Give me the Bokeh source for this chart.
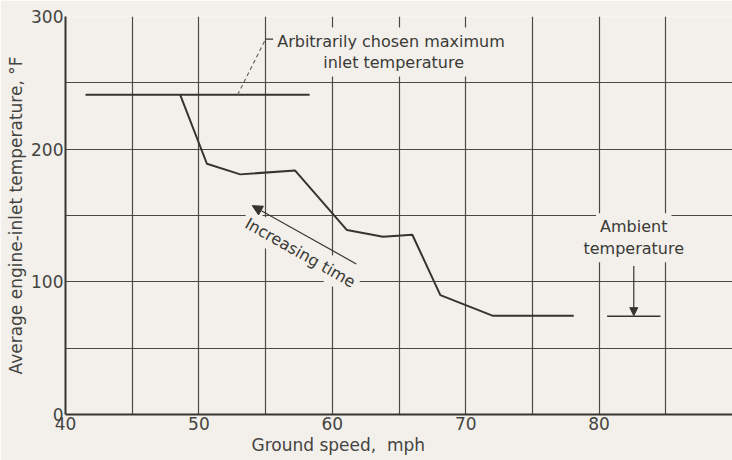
from bokeh.plotting import figure
from bokeh.models import Range1d, FixedTicker, Label, Arrow, NormalHead, Title
from bokeh.embed import file_html
from bokeh.resources import INLINE

# ---- data ----
speed = [48.6, 50.6, 53.1, 57.2, 61.1, 63.8, 66.0, 68.1, 72.0, 78.1]
temp = [241, 189, 181, 184, 139, 134, 135.5, 90, 74.5, 74.5]

max_x = [41.5, 58.3]
max_y = [241, 241]

amb_x = [80.6, 84.6]
amb_y = [74, 74]

x_ticks = [40, 50, 60, 70, 80]
y_ticks = [0, 100, 200, 300]
x_grid = [40, 45, 50, 55, 60, 65, 70, 75, 80, 85]
y_grid = [0, 50, 100, 150, 200, 250, 300]

BG = "#f3f0ec"
INK = "#35352d"
GRID = "#4a4a44"
FONT = "DejaVu Sans"

p = figure(width=732, height=460, output_backend="svg", toolbar_location=None,
           x_range=Range1d(40, 90), y_range=Range1d(0, 300),
           min_border_left=65, min_border_right=0, min_border_top=16,
           min_border_bottom=46)
p.background_fill_color = BG
p.border_fill_color = BG
p.outline_line_color = None

# grid
p.xgrid.ticker = FixedTicker(ticks=x_grid)
p.ygrid.ticker = FixedTicker(ticks=y_grid)
for g in (p.xgrid, p.ygrid):
    g.grid_line_color = GRID
    g.grid_line_width = 1.2

# axes
p.xaxis.ticker = FixedTicker(ticks=x_ticks)
p.yaxis.ticker = FixedTicker(ticks=y_ticks)
for ax in (p.xaxis, p.yaxis):
    ax.major_tick_out = 0
    ax.major_tick_in = 0
    ax.minor_tick_out = 0
    ax.minor_tick_in = 0
    ax.axis_line_color = INK
    ax.axis_line_width = 2
    ax.major_label_text_font = FONT
    ax.major_label_text_font_size = "17px"
    ax.major_label_text_color = "#444440"
    ax.axis_label_text_font = FONT
    ax.axis_label_text_font_size = "17px"
    ax.axis_label_text_font_style = "normal"
    ax.axis_label_text_color = "#444440"
p.xaxis.major_label_standoff = 2
p.yaxis.major_label_standoff = 2
p.yaxis.axis_label = "Average engine-inlet temperature, \u00b0F"
p.yaxis.axis_label_standoff = 2

# x-axis title, placed left of centre as in the reference
p.add_layout(Title(text="Ground speed,\u00a0 mph", align="left", offset=186,
                   text_font=FONT, text_font_size="17px", text_font_style="normal",
                   text_color="#444440", standoff=0), "below")

# curves
p.line(max_x, max_y, line_color=INK, line_width=2)
p.line(speed, temp, line_color=INK, line_width=2)
p.line(amb_x, amb_y, line_color=INK, line_width=1.5)

# leader to the maximum-temperature note
p.line([52.9, 55.0], [241, 283], line_color="#66665e", line_width=1.2, line_dash="4 3")
p.line([55.0, 55.6], [283, 283], line_color=INK, line_width=1.2)

def note(x, y, text, angle=0.0):
    p.add_layout(Label(x=x, y=y, text=text, angle=angle,
                       text_align="center", text_baseline="middle",
                       text_font=FONT, text_font_size="16px", text_color="#3a3a36",
                       background_fill_color=BG, padding=4))

note(64.4, 281.5, "Arbitrarily chosen maximum")
note(64.6, 265, "inlet temperature")
note(82.6, 141.5, "Ambient")
note(82.6, 125, "temperature")
note(57.6, 122, "Increasing time", angle=-0.516)

# arrows
p.add_layout(Arrow(x_start=61.8, y_start=113.5, x_end=54.0, y_end=157.4,
                   line_color=INK, line_width=1.2,
                   end=NormalHead(size=10, fill_color=INK, line_color=INK)))
p.add_layout(Arrow(x_start=82.6, y_start=112, x_end=82.6, y_end=74.5,
                   line_color=INK, line_width=1.2,
                   end=NormalHead(size=8, fill_color=INK, line_color=INK)))

open("out.html", "w").write(file_html(p, INLINE))
